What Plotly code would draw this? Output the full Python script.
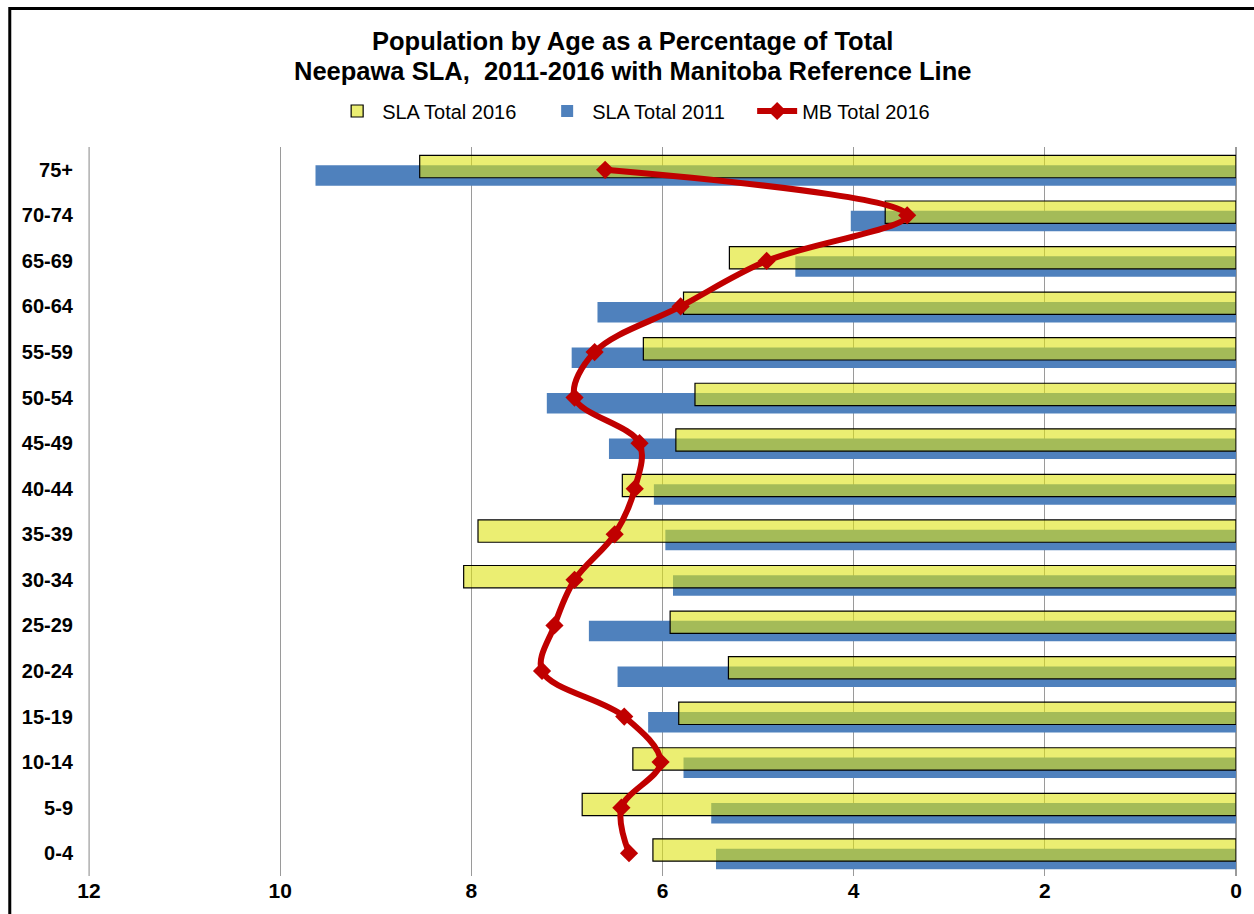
import plotly.graph_objects as go

# Age groups, youngest at the bottom of the chart
age_groups = ["0-4", "5-9", "10-14", "15-19", "20-24", "25-29", "30-34", "35-39",
              "40-44", "45-49", "50-54", "55-59", "60-64", "65-69", "70-74", "75+"]

# Share of total population (%) per age group
sla_2016 = [6.10, 6.84, 6.31, 5.83, 5.31, 5.92, 8.08, 7.93,
            6.42, 5.86, 5.66, 6.20, 5.78, 5.30, 3.67, 8.54]
sla_2011 = [5.44, 5.49, 5.78, 6.15, 6.47, 6.77, 5.89, 5.97,
            6.09, 6.56, 7.21, 6.95, 6.68, 4.61, 4.03, 9.63]
mb_2016 = [6.35, 6.43, 6.02, 6.40, 7.26, 7.13, 6.92, 6.50,
           6.29, 6.24, 6.92, 6.71, 5.81, 4.91, 3.44, 6.60]

x_ticks = [12, 10, 8, 6, 4, 2, 0]

title_lines = ["Population by Age as a Percentage of Total",
               "Neepawa SLA,&nbsp; 2011-2016 with Manitoba Reference Line"]

FONT = "Liberation Sans, Arial, sans-serif"
YELLOW = "rgba(222,226,20,0.6)"
BLUE = "#4F81BD"
RED = "#C00000"
GRID = "#9A9A9A"

fig = go.Figure()

fig.add_trace(go.Bar(
    name="SLA Total 2011", y=age_groups, x=sla_2011, orientation="h",
    marker=dict(color=BLUE, line=dict(width=0)),
    offset=-0.35, width=0.45, legendrank=2,
))
fig.add_trace(go.Bar(
    name="SLA Total 2016", y=age_groups, x=sla_2016, orientation="h",
    marker=dict(color=YELLOW, line=dict(color="black", width=1.2)),
    offset=-0.175, width=0.49, legendrank=1,
))
fig.add_trace(go.Scatter(
    name="MB Total 2016", y=age_groups, x=mb_2016, mode="lines+markers",
    line=dict(color=RED, width=6, shape="spline", smoothing=1.0),
    marker=dict(symbol="diamond", size=14, color=RED),
    legendrank=3,
))

L, R, T, B = 88, 14, 147, 38
W, H = 1254, 914
pw, ph = W - L - R, H - T - B

def px_x(p):
    return (p - L) / pw

def px_y(p):
    return (H - B - p) / ph

annotations = [
    dict(text="<b>%s</b>" % line, xref="paper", yref="paper",
         x=px_x(634), y=px_y(yc), xanchor="center", yanchor="middle",
         showarrow=False, font=dict(size=25.5, family=FONT, color="black"))
    for line, yc in zip(title_lines, [41, 71])
]

shapes = [
    # gridline at the far (left) end of the reversed value axis
    dict(type="rect", xref="paper", yref="paper",
         x0=px_x(88.5), x1=px_x(89.7), y0=0, y1=1,
         fillcolor=GRID, line=dict(width=0), layer="above"),
    # chart frame
    dict(type="rect", xref="paper", yref="paper",
         x0=px_x(9.5), x1=px_x(1275), y0=px_y(940), y1=px_y(8.5),
         line=dict(color="black", width=3), fillcolor="rgba(0,0,0,0)", layer="above"),
]

fig.update_layout(
    width=W, height=H,
    margin=dict(l=L, r=R, t=T, b=B),
    paper_bgcolor="white", plot_bgcolor="white",
    barmode="overlay",
    font=dict(family=FONT, color="black"),
    annotations=annotations,
    shapes=shapes,
    legend=dict(
        orientation="h", x=px_x(333), xanchor="left", y=px_y(111), yanchor="middle",
        font=dict(size=20, family=FONT), bgcolor="rgba(0,0,0,0)",
        itemwidth=40, entrywidth=155, traceorder="normal",
    ),
    xaxis=dict(
        range=[12.01, 0], tickvals=x_ticks, ticktext=[str(v) for v in x_ticks],
        showgrid=True, gridcolor=GRID, gridwidth=1,
        zeroline=True, zerolinecolor=GRID, zerolinewidth=1.5,
        showline=False, ticks="",
        tickfont=dict(size=21, family=FONT, color="black", weight="bold"),
    ),
    yaxis=dict(
        type="category", categoryorder="array", categoryarray=age_groups,
        range=[-0.5, len(age_groups) - 0.5],
        showgrid=False, zeroline=False, showline=False, ticks="",
        ticklabelstandoff=14,
        tickfont=dict(size=20, family=FONT, color="black", weight="bold"),
    ),
)

fig.write_html("out.html")
